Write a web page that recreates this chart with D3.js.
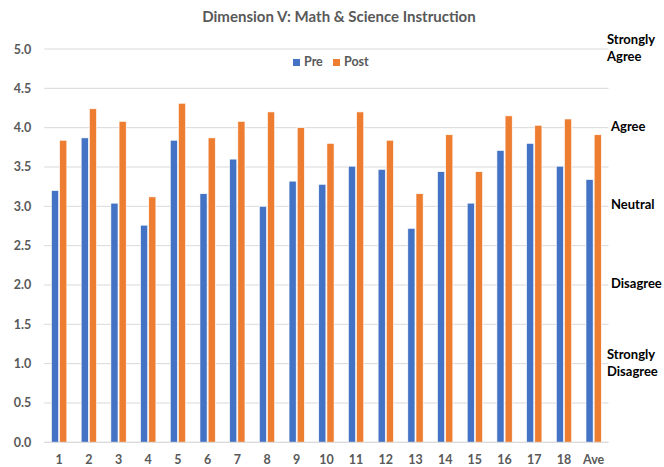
<!DOCTYPE html>
<html>
<head>
<meta charset="utf-8">
<script src="https://cdn.jsdelivr.net/npm/d3@7"></script>
<style>
  body { margin: 0; background: #fff; }
  svg { display: block; font-family: Lato, "Open Sans", sans-serif; }
</style>
</head>
<body>
<svg id="chart" width="664" height="467"></svg>
<script>
// chart data
const categories = ["1","2","3","4","5","6","7","8","9","10","11","12","13","14","15","16","17","18","Ave"];
const preValues  = [3.20, 3.87, 3.04, 2.76, 3.84, 3.16, 3.60, 3.00, 3.32, 3.28, 3.51, 3.47, 2.72, 3.44, 3.04, 3.71, 3.80, 3.51, 3.34];
const postValues = [3.84, 4.24, 4.08, 3.12, 4.31, 3.87, 4.08, 4.20, 4.00, 3.80, 4.20, 3.84, 3.16, 3.91, 3.44, 4.15, 4.03, 4.11, 3.91];
const seriesNames = ["Pre", "Post"];
const yTicks = [0, 0.5, 1, 1.5, 2, 2.5, 3, 3.5, 4, 4.5, 5];
const scaleLabels = [
  { value: 5, lines: ["Strongly", "Agree"] },
  { value: 4, lines: ["Agree"] },
  { value: 3, lines: ["Neutral"] },
  { value: 2, lines: ["Disagree"] },
  { value: 1, lines: ["Strongly", "Disagree"] }
];

const colors = { Pre: "#4472C4", Post: "#ED7D31" };
const svg = d3.select("#chart");

const plotLeft = 44.3, plotRight = 608.5;
const y = d3.scaleLinear().domain([0, 5]).range([442.3, 49]);
const x = d3.scaleBand().domain(categories).range([plotLeft, plotRight]);
const groupWidth = 15.3;
const inner = d3.scaleBand().domain(seriesNames).range([0, groupWidth]).paddingInner(0.13);
const groupOffset = (x.bandwidth() - groupWidth) / 2;

// title
svg.append("text")
  .attr("x", 339).attr("y", 22)
  .attr("text-anchor", "middle")
  .style("font-size", "15px").style("font-weight", "bold")
  .attr("fill", "#595959")
  .text("Dimension V: Math & Science Instruction");

// gridlines
svg.append("g").selectAll("line")
  .data(yTicks)
  .join("line")
  .attr("x1", plotLeft).attr("x2", plotRight)
  .attr("y1", d => y(d)).attr("y2", d => y(d))
  .attr("stroke", "#D9D9D9").attr("stroke-width", 1);

// y axis labels
const yAxis = svg.append("g")
  .attr("transform", `translate(${plotLeft - 13},0)`)
  .call(d3.axisLeft(y).tickValues(yTicks).tickFormat(d3.format(".1f")).tickSize(0).tickPadding(0));
yAxis.select(".domain").remove();
yAxis.selectAll("text")
  .attr("fill", "#595959")
  .style("font-size", "12.5px").style("font-weight", "bold")
  .style("font-family", "Lato, sans-serif");

// bars
const rows = categories.map((c, i) => ({ cat: c, Pre: preValues[i], Post: postValues[i] }));
const groups = svg.append("g").selectAll("g")
  .data(rows)
  .join("g")
  .attr("transform", d => `translate(${x(d.cat) + groupOffset},0)`);

groups.selectAll("rect")
  .data(d => seriesNames.map(s => ({ s, v: d[s] })))
  .join("rect")
  .attr("x", d => inner(d.s))
  .attr("width", inner.bandwidth())
  .attr("y", d => y(d.v))
  .attr("height", d => y(0) - y(d.v))
  .attr("fill", d => colors[d.s])
  .attr("stroke", "#fff").attr("stroke-width", 0.6);

// baseline
svg.append("line")
  .attr("x1", plotLeft).attr("x2", plotRight)
  .attr("y1", y(0)).attr("y2", y(0))
  .attr("stroke", "#D9D9D9");

// x axis labels
const xAxis = svg.append("g")
  .attr("transform", `translate(0,${y(0)})`)
  .call(d3.axisBottom(x).tickSize(0).tickPadding(13));
xAxis.select(".domain").remove();
xAxis.selectAll("text")
  .attr("fill", "#595959")
  .style("font-size", "12.5px").style("font-weight", "bold")
  .style("font-family", "Lato, sans-serif");

// legend
const legend = svg.append("g").attr("transform", "translate(293,66)");
const legendX = { Pre: 0, Post: 40 };
seriesNames.forEach(s => {
  const g = legend.append("g").attr("transform", `translate(${legendX[s]},0)`);
  g.append("rect").attr("x", 0).attr("y", -7).attr("width", 7).attr("height", 7).attr("fill", colors[s]);
  g.append("text").attr("x", 11).attr("y", 0)
    .attr("fill", "#595959")
    .style("font-size", "12.5px").style("font-weight", "bold")
    .text(s);
});

// agreement scale on the right
const scale = svg.append("g");
scaleLabels.forEach(l => {
  const multi = l.lines.length > 1;
  const lx = multi ? 607 : 611;
  const t = scale.append("text")
    .attr("x", lx)
    .attr("y", multi ? y(l.value) - 5 : y(l.value) + 3)
    .attr("fill", "#000")
    .style("font-size", "13px").style("font-weight", "bold");
  l.lines.forEach((line, i) => {
    t.append("tspan").attr("x", lx).attr("dy", i === 0 ? 0 : 17).text(line);
  });
});
</script>
</body>
</html>
